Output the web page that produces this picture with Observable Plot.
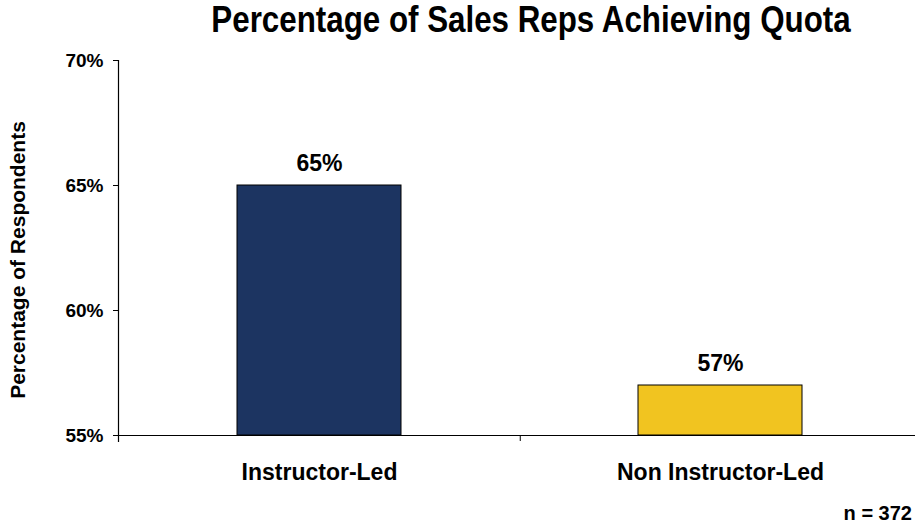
<!DOCTYPE html>
<html>
<head>
<meta charset="utf-8">
<script src="https://cdn.jsdelivr.net/npm/d3@7"></script>
<script src="https://cdn.jsdelivr.net/npm/@observablehq/plot@0.6"></script>
<style>
  html, body { margin: 0; padding: 0; background: #fff; }
  body { width: 915px; height: 527px; overflow: hidden; font-family: "Liberation Sans", Arial, sans-serif; }
  #title { position: relative; height: 46px; }
  #title span { position: absolute; left: 531px; top: 2px; white-space: nowrap; font-weight: bold; font-size: 36px; line-height: 36px; color: #000; transform: translateX(-50%) scaleX(0.87); }
  #caption { position: relative; height: 26px; }
  #caption span { position: absolute; right: 3px; top: 2px; font-weight: bold; font-size: 20px; line-height: 20px; color: #000; }
  svg { display: block; }
</style>
</head>
<body>
<div id="title"><span>Percentage of Sales Reps Achieving Quota</span></div>
<div id="chart"></div>
<div id="caption"><span>n = 372</span></div>
<script>
const categories = ["Instructor-Led", "Non Instructor-Led"];
const values = [65, 57];
const colors = ["#1c3461", "#f1c420"];
const yTicks = [55, 60, 65, 70];
const yLabel = "Percentage of Respondents";

const data = categories.map((c, i) => ({category: c, value: values[i], color: colors[i]}));

const width = 915, height = 455, marginLeft = 118, marginRight = -6;
const paddingInner = 0.59, paddingOuter = 0.295;
const step = (width - marginLeft - marginRight) / (categories.length - paddingInner + 2 * paddingOuter);

const chart = Plot.plot({
  width, height,
  marginTop: 14, marginBottom: 66, marginLeft, marginRight,
  style: {fontFamily: "Liberation Sans, Arial, sans-serif", color: "#000", background: "#fff"},
  x: {domain: categories, paddingInner, paddingOuter, label: null},
  y: {domain: [yTicks[0], yTicks[yTicks.length - 1]], label: null},
  marks: [
    Plot.barY(data, {x: "category", y1: yTicks[0], y2: "value", fill: "color", stroke: "#000", strokeWidth: 1}),
    Plot.text(data, {x: "category", y: "value", text: d => d.value + "%", lineAnchor: "bottom", dy: -15, fontSize: 23, fontWeight: "bold", fill: "#000"}),
    Plot.ruleY([yTicks[0]], {stroke: "#000", strokeWidth: 1.2}),
    Plot.frame({anchor: "left", stroke: "#000", strokeWidth: 1.2, insetBottom: -6}),
    Plot.axisY({ticks: yTicks, tickSize: 5, tickPadding: 10, tickFormat: d => d + "%", fontSize: 19, fontWeight: "bold", label: null, stroke: "#000", strokeOpacity: 1}),
    Plot.axisX({tickSize: 0, tickPadding: 28, fontSize: 23, fontWeight: "bold", label: null}),
    Plot.axisX({ticks: [categories[0]], tickSize: 6, dx: step / 2, tickFormat: () => "", label: null, stroke: "#000", strokeOpacity: 1}),
    Plot.text([yLabel], {frameAnchor: "left", text: d => d, rotate: -90, dx: -100, dy: 12, fontSize: 21, fontWeight: "bold", fill: "#000", textAnchor: "middle", lineAnchor: "middle"})
  ]
});
document.getElementById("chart").appendChild(chart);
</script>
</body>
</html>
